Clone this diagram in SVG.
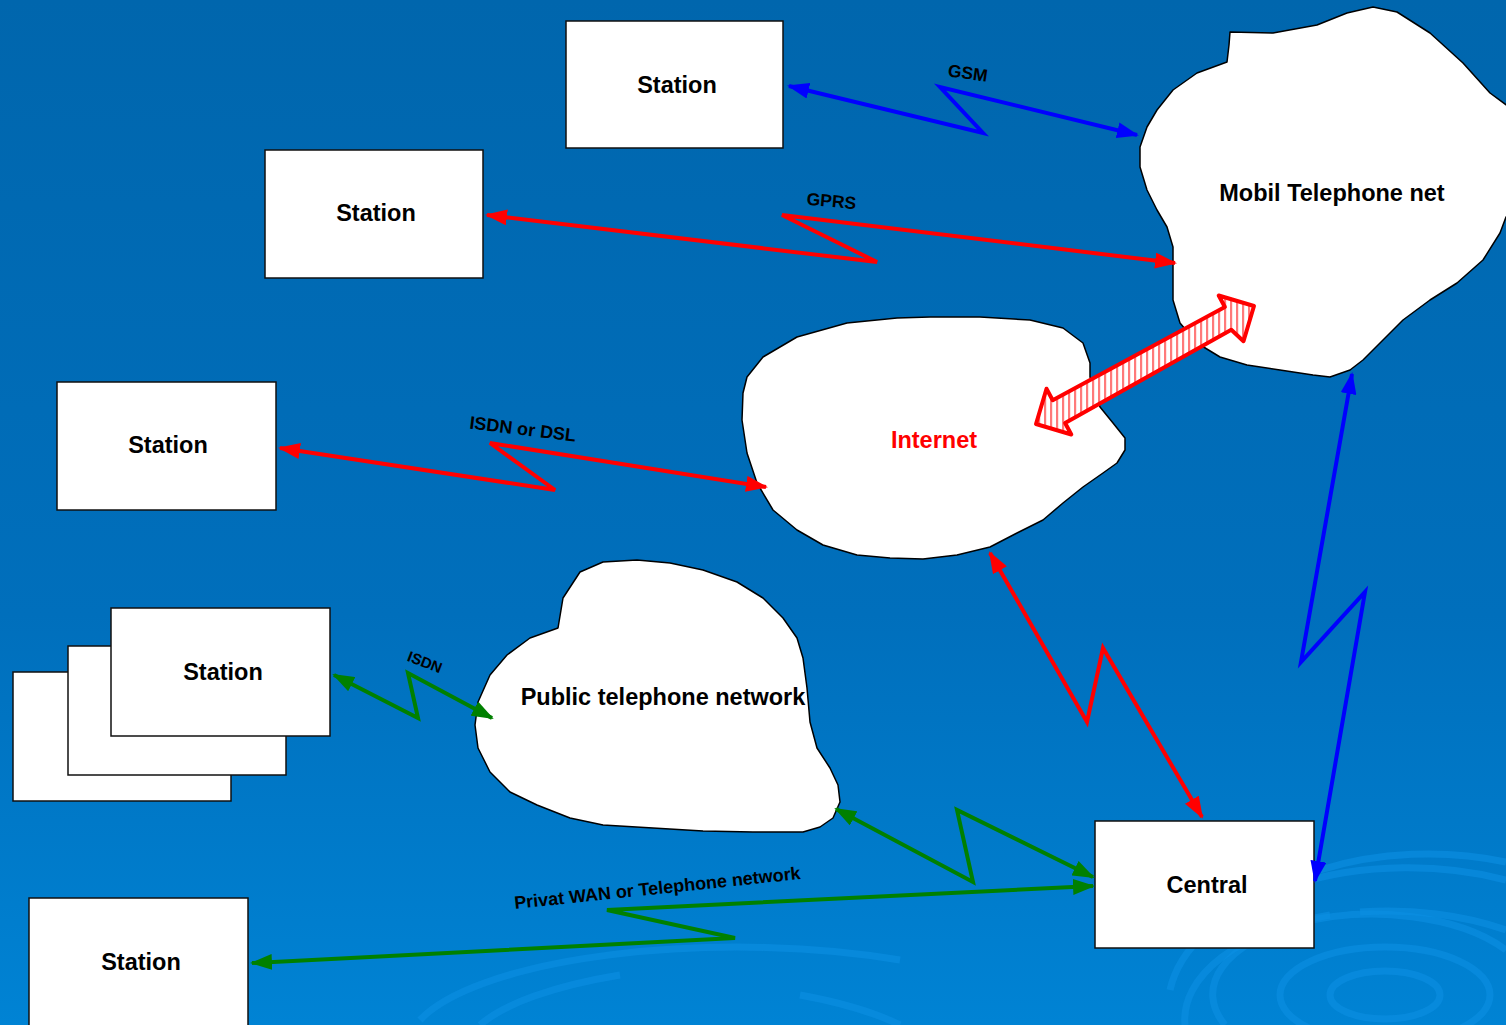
<svg xmlns="http://www.w3.org/2000/svg" width="1506" height="1025" viewBox="0 0 1506 1025">
<defs>
<linearGradient id="bg" x1="0" y1="0" x2="0" y2="1">
<stop offset="0" stop-color="#0066ad"/>
<stop offset="0.6" stop-color="#006fbc"/>
<stop offset="1" stop-color="#0083d4"/>
</linearGradient>
<pattern id="hatch" patternUnits="userSpaceOnUse" width="6" height="6">
<rect width="6" height="6" fill="#ffffff"/>
<rect x="0" y="0" width="2.2" height="6" fill="#ff7a7a"/>
</pattern>
<marker id="ab" viewBox="0 0 22 16" refX="20" refY="8" markerWidth="22" markerHeight="16" markerUnits="userSpaceOnUse" orient="auto-start-reverse"><path d="M0,0 L22,8 L0,16 z" fill="#0000ff"/></marker>
<marker id="ar" viewBox="0 0 22 16" refX="20" refY="8" markerWidth="22" markerHeight="16" markerUnits="userSpaceOnUse" orient="auto-start-reverse"><path d="M0,0 L22,8 L0,16 z" fill="#ff0000"/></marker>
<marker id="ag" viewBox="0 0 22 16" refX="20" refY="8" markerWidth="22" markerHeight="16" markerUnits="userSpaceOnUse" orient="auto-start-reverse"><path d="M0,0 L22,8 L0,16 z" fill="#008000"/></marker>
</defs>
<style>
.box{fill:#ffffff;stroke:#111111;stroke-width:1.5}
.cloud{fill:#ffffff;stroke:#000000;stroke-width:1.5;stroke-linejoin:round}
.lbl{font-family:"Liberation Sans",Arial,sans-serif;font-weight:bold;font-size:23.5px;fill:#000000;text-anchor:middle}
.clbl{font-family:"Liberation Sans",Arial,sans-serif;font-weight:bold;fill:#000000;text-anchor:middle}
.blue{fill:none;stroke:#0000ff;stroke-width:4;stroke-linejoin:miter;marker-start:url(#ab);marker-end:url(#ab)}
.red{fill:none;stroke:#ff0000;stroke-width:4;marker-start:url(#ar);marker-end:url(#ar)}
.green{fill:none;stroke:#008000;stroke-width:4;marker-start:url(#ag);marker-end:url(#ag)}
.rip{fill:none;stroke:#0c8fe2;stroke-width:7;opacity:0.6}
</style>
<rect width="1506" height="1025" fill="url(#bg)"/>
<g id="ripples">
<ellipse class="rip" cx="1385" cy="995" rx="55" ry="24"/>
<ellipse class="rip" cx="1385" cy="995" rx="105" ry="48"/>
<path class="rip" d="M1225,1025 A160,80 0 0 1 1506,950"/>
<path class="rip" d="M1185,1025 A210,110 0 0 1 1330,915 M1360,912 A210,110 0 0 1 1506,930"/>
<path class="rip" d="M1170,990 A240,140 0 0 1 1506,880"/>
<path class="rip" d="M1320,870 A240,150 0 0 1 1506,862"/>
<path class="rip" d="M480,1025 A300,90 0 0 1 620,975" opacity="0.35"/>
<path class="rip" d="M420,1020 A330,100 0 0 1 900,960" opacity="0.3"/>
<path class="rip" d="M900,1025 A300,90 0 0 0 800,995" opacity="0.3"/>
</g>
<g id="mobile">
<path class="cloud" d="M1230,32 L1273,33 L1317,25 L1347,13 L1373,7 L1397,12 L1430,33 L1463,63 L1490,93 L1520,115 L1520,210 L1506,217 L1500,233 L1483,260 L1457,283 L1430,300 L1403,320 L1383,340 L1363,360 L1350,370 L1330,377 L1313,375 L1280,370 L1247,365 L1220,357 L1197,343 L1180,323 L1173,300 L1173,273 L1173,247 L1167,227 L1157,210 L1147,190 L1140,167 L1140,147 L1147,127 L1157,110 L1173,90 L1197,73 L1227,62 L1229,45 Z"/>
<text class="lbl" x="1332" y="201">Mobil Telephone net</text>
</g>
<g id="internet">
<path class="cloud" d="M747,377 L763,357 L797,337 L847,323 L897,318 L930,317 L980,317 L1030,320 L1063,328 L1083,343 L1090,363 L1090,377 L1100,407 L1113,423 L1125,438 L1125,450 L1117,463 L1103,473 L1083,487 L1063,503 L1043,520 L1017,533 L990,547 L957,555 L923,559 L890,558 L857,555 L823,545 L797,530 L773,510 L757,483 L747,453 L742,420 L743,393 Z"/>
<text class="lbl" x="934" y="448" style="fill:#ff0000">Internet</text>
</g>
<g id="public">
<path class="cloud" d="M558,628 L563,598 L580,572 L603,562 L637,560 L670,563 L703,570 L737,582 L763,598 L783,618 L797,638 L803,658 L807,688 L810,722 L817,748 L830,768 L838,785 L840,802 L833,818 L820,827 L803,832 L753,832 L703,831 L653,828 L603,825 L570,818 L537,805 L510,792 L490,772 L478,748 L475,725 L478,702 L490,675 L507,655 L530,638 Z"/>
<text class="lbl" x="663" y="705">Public telephone network</text>
</g>
<g id="hatched-arrow">
<polygon points="1036,424 1046.5,388.7 1052.7,400.2 1224.9,307 1218.7,295.5 1254,306 1243.5,341.3 1231.3,329.8 1065.1,423 1071.3,434.5" fill="url(#hatch)" stroke="#ff0000" stroke-width="4" stroke-linejoin="round"/>
</g>
<g id="station1">
<rect class="box" x="566" y="21" width="217" height="127"/>
<text class="lbl" x="677" y="93">Station</text>
</g>
<g id="station2">
<rect class="box" x="265" y="150" width="218" height="128"/>
<text class="lbl" x="376" y="221">Station</text>
</g>
<g id="station3">
<rect class="box" x="57" y="382" width="219" height="128"/>
<text class="lbl" x="168" y="453">Station</text>
</g>
<g id="station-stack">
<rect class="box" x="13" y="672" width="218" height="129"/>
<rect class="box" x="68" y="646" width="218" height="129"/>
<rect class="box" x="111" y="608" width="219" height="128"/>
<text class="lbl" x="223" y="680">Station</text>
</g>
<g id="station5">
<rect class="box" x="29" y="898" width="219" height="140"/>
<text class="lbl" x="141" y="970">Station</text>
</g>
<g id="central">
<rect class="box" x="1095" y="821" width="219" height="127"/>
<text class="lbl" x="1207" y="893">Central</text>
</g>
<g id="connectors">
<polyline class="blue" points="789,86 983,133 940,87 1137,135"/>
<polyline class="red" points="487,215 877,262 782,215 1175,263"/>
<polyline class="red" points="280,448 555,490 490,443 766,487"/>
<polyline class="green" points="334,675 418,718 408,673 492,718"/>
<polyline class="green" points="252,963 735,938 607,910 1093,886"/>
<polyline class="green" points="836,809 973,882 957,810 1093,877"/>
<polyline class="red" points="990,553 1087,722 1103,648 1202,817"/>
<polyline class="blue" points="1352,374 1301,662 1365,592 1315,881"/>
</g>
<g id="labels">
<text class="clbl" font-size="17.5" transform="translate(967,79) rotate(8)">GSM</text>
<text class="clbl" font-size="17.5" transform="translate(831,207) rotate(5)">GPRS</text>
<text class="clbl" font-size="18" transform="translate(522,435) rotate(7)">ISDN or DSL</text>
<text class="clbl" font-size="15" transform="translate(423,667) rotate(21)">ISDN</text>
<text class="clbl" font-size="18" transform="translate(658,894) rotate(-6)">Privat WAN or Telephone network</text>
</g>
</svg>
